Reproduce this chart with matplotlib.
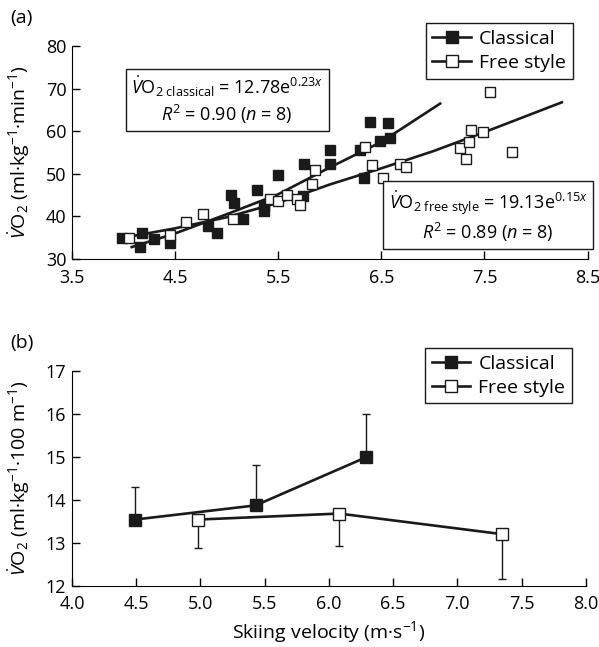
import matplotlib
matplotlib.use('Agg')
import matplotlib.pyplot as plt
from matplotlib.lines import Line2D

plt.rcParams['font.family'] = ['Open Sans', 'DejaVu Sans']
plt.rcParams['mathtext.fontset'] = 'custom'
plt.rcParams['mathtext.rm'] = 'Open Sans'
plt.rcParams['mathtext.it'] = 'Open Sans:italic'
plt.rcParams['mathtext.bf'] = 'Open Sans:bold'

# (a) individual values
cl_x = [3.99, 4.18, 4.16, 4.30, 4.45, 4.82, 4.91, 5.04, 5.07, 5.16, 5.29, 5.36,
        5.36, 5.50, 5.74, 5.75, 6.00, 6.00, 6.29, 6.33, 6.39, 6.49, 6.56, 6.58]
cl_y = [35.0, 36.2, 32.9, 34.7, 33.8, 37.8, 36.0, 45.0, 43.1, 39.5, 46.3, 42.4,
        41.3, 49.7, 44.8, 52.2, 55.7, 52.2, 55.7, 49.0, 62.2, 57.6, 61.9, 58.4]
fs_x = [4.05, 4.45, 4.61, 4.77, 5.06, 5.42, 5.50, 5.59, 5.68, 5.71, 5.83, 5.86,
        6.34, 6.41, 6.52, 6.68, 6.74, 7.26, 7.32, 7.35, 7.37, 7.49, 7.55, 7.77]
fs_y = [35.0, 35.6, 38.6, 40.5, 39.3, 44.0, 43.6, 45.0, 44.1, 42.8, 47.6, 50.8,
        56.4, 52.0, 49.0, 52.4, 51.5, 56.1, 53.6, 57.5, 60.2, 59.8, 69.3, 55.1]

# fitted curves as drawn in the figure
cl_fit_x = [4.08, 4.5, 5.0, 5.5, 6.0, 6.5, 7.07]
cl_fit_y = [32.8, 36.0, 40.5, 45.2, 51.5, 57.5, 66.5]
fs_fit_x = [4.0, 4.5, 5.0, 5.5, 6.0, 6.5, 7.0, 7.5, 8.25]
fs_fit_y = [35.0, 37.2, 39.8, 43.2, 47.5, 51.3, 55.3, 59.8, 66.8]

# (b) means and SD
cl_v = [4.49, 5.43, 6.29]
cl_m = [13.54, 13.87, 14.99]
cl_sd = [0.76, 0.93, 1.01]
fs_v = [4.98, 6.08, 7.35]
fs_m = [13.54, 13.68, 13.20]
fs_sd = [0.67, 0.76, 1.05]

fig = plt.figure(figsize=(5.99, 6.47), dpi=100)
ax1 = fig.add_axes([0.120, 0.5997, 0.861, 0.329])
ax2 = fig.add_axes([0.120, 0.0947, 0.858, 0.332])

for ax in (ax1, ax2):
    ax.spines['top'].set_visible(False)
    ax.spines['right'].set_visible(False)
    ax.tick_params(direction='in', length=6, labelsize=13, width=1)
    ax.tick_params(axis='x', pad=7)
    ax.tick_params(axis='y', pad=4)

ax1.plot(cl_fit_x, cl_fit_y, color='#1a1a1a', lw=1.9)
ax1.plot(fs_fit_x, fs_fit_y, color='#1a1a1a', lw=1.9)
ax1.plot(cl_x, cl_y, 's', ms=7.5, mfc='#1a1a1a', mec='#1a1a1a', ls='none')
ax1.plot(fs_x, fs_y, 's', ms=7.5, mfc='white', mec='#1a1a1a', mew=1.0, ls='none')
ax1.set_xlim(3.5, 8.5)
ax1.set_ylim(30, 80)
ax1.set_xticks([3.5, 4.5, 5.5, 6.5, 7.5, 8.5])
ax1.set_yticks([30, 40, 50, 60, 70, 80])
ax1.set_ylabel(r'$\dot{V}$O$_2$ (ml·kg$^{-1}$·min$^{-1}$)', fontsize=14)
ax1.yaxis.set_label_coords(-0.078, 0.5)

bb = dict(boxstyle='square,pad=0.3', fc='white', ec='#1a1a1a', lw=1)
fig.text(0.379, 0.845,
         '$\\dot{V}$O$_{2\\ \\mathrm{classical}}$ = 12.78e$^{0.23x}$\n$R^2$ = 0.90 ($n$ = 8)',
         ha='center', va='center', multialignment='center', fontsize=13, bbox=bb)
fig.text(0.815, 0.665,
         '$\\dot{V}$O$_{2\\ \\mathrm{free\\ style}}$ = 19.13e$^{0.15x}$\n$R^2$ = 0.89 ($n$ = 8)',
         ha='center', va='center', multialignment='center', fontsize=13, bbox=bb)

ax2.errorbar(cl_v, cl_m, yerr=[[0] * 3, cl_sd], fmt='none', ecolor='#1a1a1a',
             elinewidth=1, capsize=3)
ax2.errorbar(fs_v, fs_m, yerr=[fs_sd, [0] * 3], fmt='none', ecolor='#1a1a1a',
             elinewidth=1, capsize=3)
ax2.plot(cl_v, cl_m, '-s', color='#1a1a1a', lw=1.9, ms=8, mfc='#1a1a1a')
ax2.plot(fs_v, fs_m, '-s', color='#1a1a1a', lw=1.9, ms=8, mfc='white', mew=1.0)
ax2.set_xlim(4.0, 8.0)
ax2.set_ylim(12, 17)
ax2.set_xticks([4.0, 4.5, 5.0, 5.5, 6.0, 6.5, 7.0, 7.5, 8.0])
ax2.set_xticklabels(['4.0', '4.5', '5.0', '5.5', '6.0', '6.5', '7.0', '7.5', '8.0'])
ax2.set_yticks([12, 13, 14, 15, 16, 17])
ax2.set_ylabel(r'$\dot{V}$O$_2$ (ml·kg$^{-1}$·100 m$^{-1}$)', fontsize=14)
ax2.yaxis.set_label_coords(-0.078, 0.5)
ax2.set_xlabel(r'Skiing velocity (m·s$^{-1}$)', fontsize=14, labelpad=4)

handles = [Line2D([], [], color='#1a1a1a', lw=1.9, marker='s', ms=8, mfc='#1a1a1a'),
           Line2D([], [], color='#1a1a1a', lw=1.9, marker='s', ms=8, mfc='white', mew=1.0)]
for ax, x, y in ((ax1, 0.971, 1.108), (ax2, 0.973, 1.107)):
    leg = ax.legend(handles, ['Classical', 'Free style'], loc='upper right',
                    bbox_to_anchor=(x, y), borderaxespad=0, fontsize=14,
                    fancybox=False, edgecolor='#1a1a1a', framealpha=1,
                    handlelength=2, borderpad=0.35, labelspacing=0.3,
                    handletextpad=0.4)
    leg.get_frame().set_linewidth(1)

fig.text(0.017, 0.965, '(a)', fontsize=14)
fig.text(0.017, 0.462, '(b)', fontsize=14)

fig.savefig('out.png', dpi=100)
